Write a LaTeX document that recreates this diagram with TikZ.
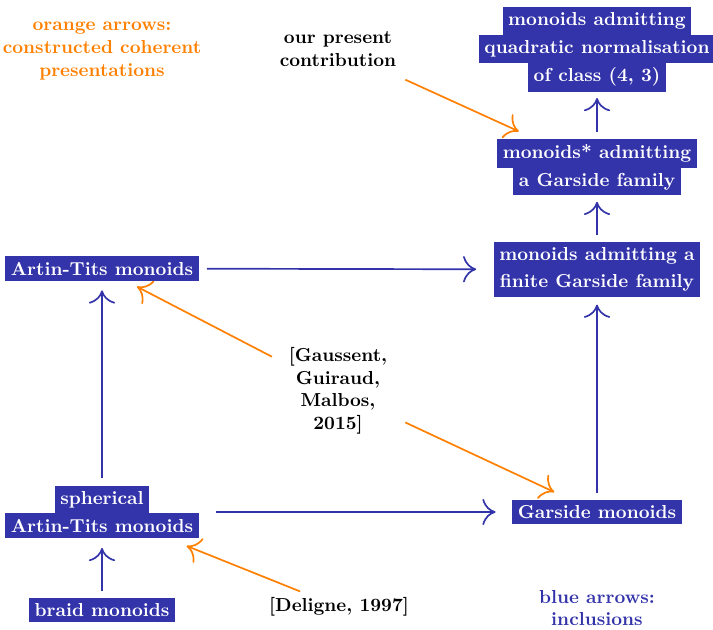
\documentclass[tikz,border=0pt]{standalone}
\usetikzlibrary{arrows.meta,calc,backgrounds}
\definecolor{myblue}{RGB}{51,51,170}
\definecolor{myorange}{RGB}{255,128,0}
\setlength{\fboxsep}{3pt}
\newcommand{\bx}[1]{\colorbox{myblue}{\textcolor{white}{#1}}}
\tikzset{
  boxnode/.style={inner sep=0pt, align=center, font=\bfseries\setlength{\lineskip}{-0.3pt}\setlength{\lineskiplimit}{0pt}},
  txt/.style={inner sep=0pt, align=center, font=\bfseries},
  tipstyle/.style={-{Computer Modern Rightarrow[length=7pt,width=14pt]}, line width=0.9pt},
  bluearrow/.style={tipstyle, draw=myblue},
  orangearrow/.style={tipstyle, draw=myorange}
}
\begin{document}
\begin{tikzpicture}[x=0.5319pt,y=-0.5319pt]
\useasboundingbox (0,0) rectangle (713,629);
% blue boxes
\node[boxnode] (quad) at (597,49.5) {\bx{monoids admitting}\\\bx{quadratic normalisation}\\\bx{of class (4, 3)}};
\node[boxnode] (garfam) at (597,167) {\bx{monoids* admitting}\\\bx{a Garside family}};
\node[boxnode] (fingar) at (597,269.5) {\bx{monoids admitting a}\\\bx{finite Garside family}};
\node[boxnode] (artin) at (102,268.5) {\bx{Artin-Tits monoids}};
\node[boxnode] (spher) at (102,512) {\bx{spherical}\\\bx{Artin-Tits monoids}};
\node[boxnode] (garside) at (597,512) {\bx{Garside monoids}};
\node[boxnode] (braid) at (102,610) {\bx{braid monoids}};
% texts
\node[txt, text=myorange] (olegend) at (102,51) {orange arrows:\\constructed coherent\\presentations};
\node[txt, text=myblue] (blegend) at (597,608) {blue arrows:\\inclusions};
\node[txt] (contrib) at (338,49) {our present\\contribution};
\node[txt] (gauss) at (338,391) {[Gaussent,\\Guiraud,\\Malbos,\\2015]};
\node[txt] (deligne) at (339,607) {[Deligne, 1997]};
\begin{pgfonlayer}{background}
% blue inclusion arrows
\draw[bluearrow] ($(fingar)!0.34!(garfam)$) -- ($(fingar)!0.66!(garfam)$);
\draw[bluearrow] ($(garfam)!0.298!(quad)$) -- ($(garfam)!0.587!(quad)$);
\draw[bluearrow] ($(artin)!0.212!(fingar)$) -- ($(artin)!0.756!(fingar)$);
\draw[bluearrow] ($(spher)!0.139!(artin)$) -- ($(spher)!0.91!(artin)$);
\draw[bluearrow] ($(spher)!0.231!(garside)$) -- ($(spher)!0.795!(garside)$);
\draw[bluearrow] ($(garside)!0.079!(fingar)$) -- ($(garside)!0.855!(fingar)$);
\draw[bluearrow] ($(braid)!0.194!(spher)$) -- ($(braid)!0.633!(spher)$);
% orange arrows
\draw[orangearrow] ($(contrib)!0.26!(garfam)$) -- ($(contrib)!0.698!(garfam)$);
\draw[orangearrow] ($(gauss)!0.28!(artin)$) -- ($(gauss)!0.852!(artin)$);
\draw[orangearrow] ($(gauss)!0.26!(garside)$) -- ($(gauss)!0.835!(garside)$);
\draw[orangearrow] ($(deligne)!0.164!(spher)$) -- ($(deligne)!0.643!(spher)$);
\end{pgfonlayer}
\end{tikzpicture}
\end{document}
